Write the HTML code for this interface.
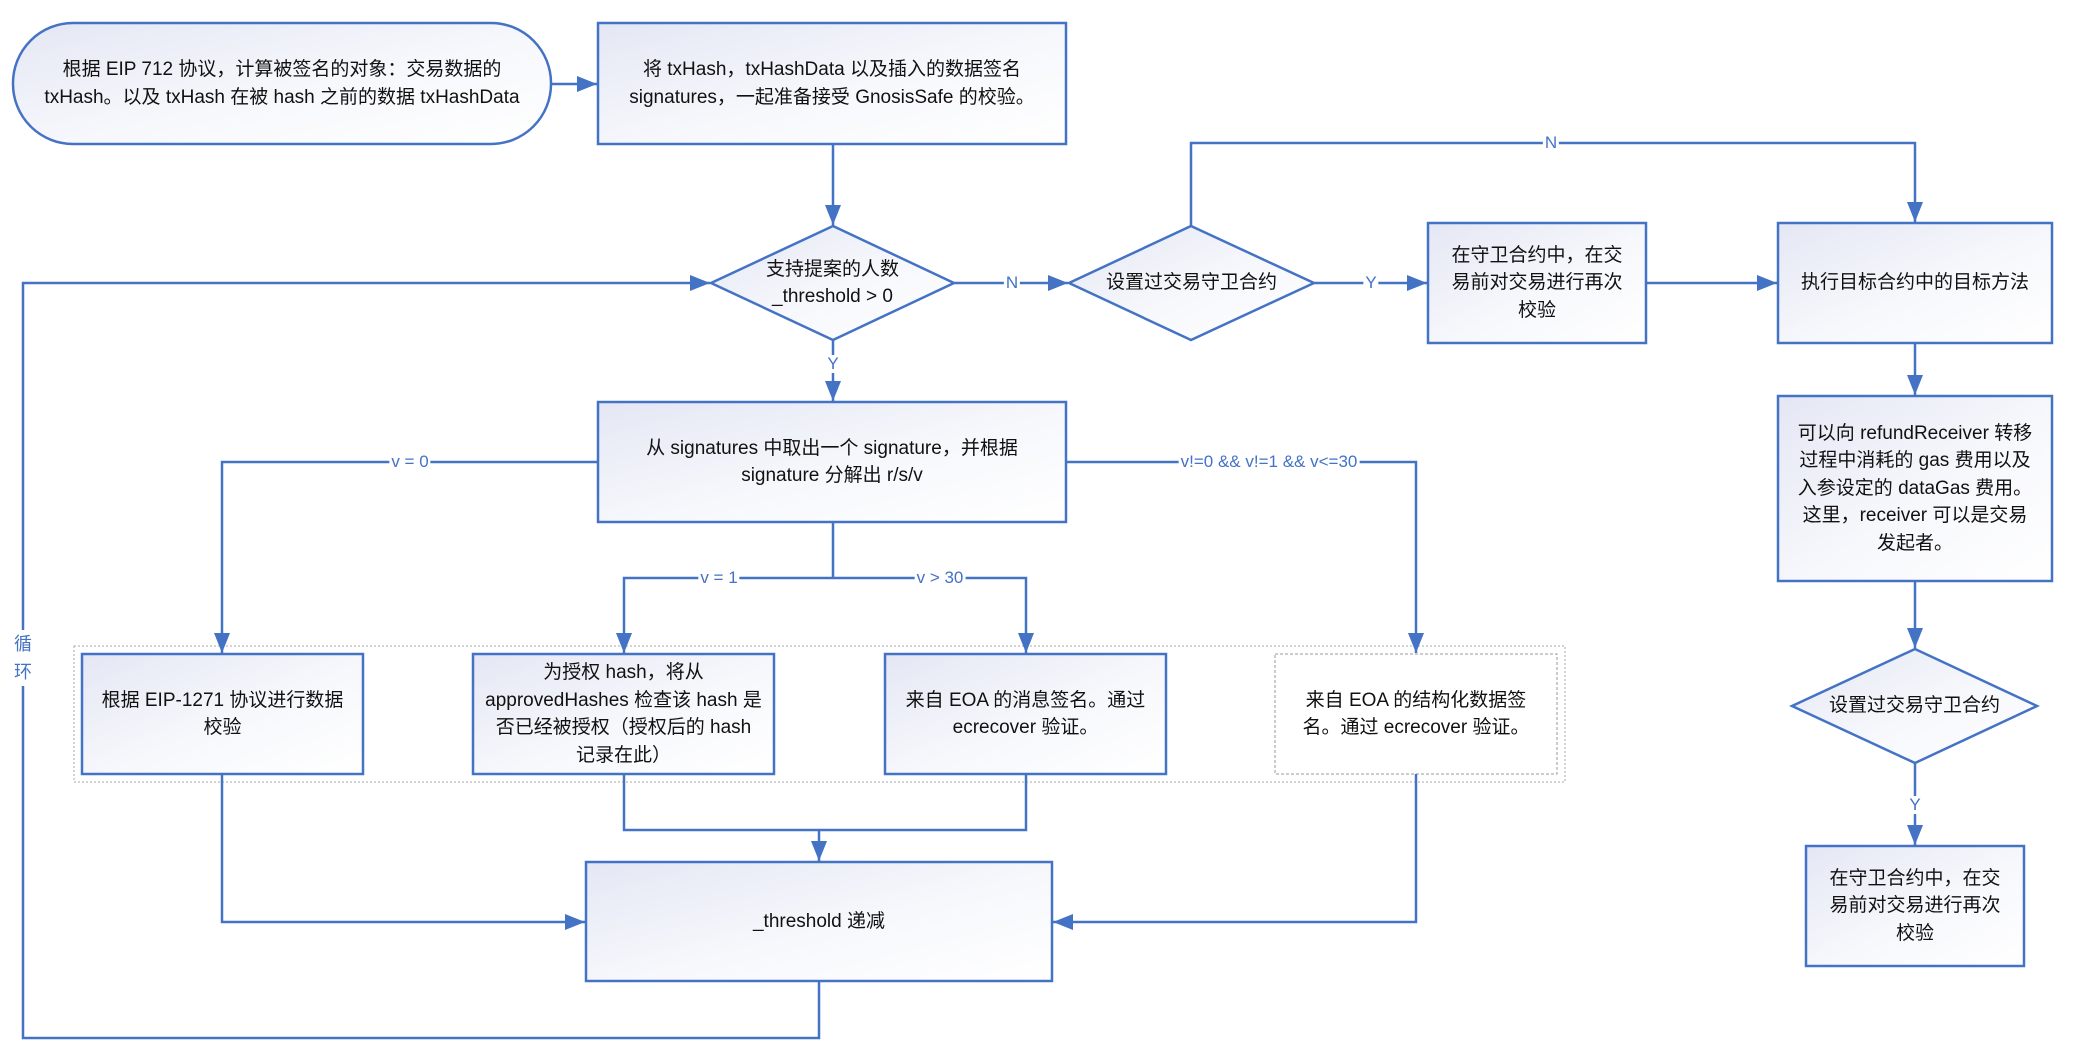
<!DOCTYPE html>
<html><head><meta charset="utf-8"><style>
html,body{margin:0;padding:0;background:#fff;}
body{width:2083px;height:1061px;position:relative;overflow:hidden;font-family:"Liberation Sans","Noto Sans CJK SC",sans-serif;}
.t{position:absolute;display:flex;align-items:center;justify-content:center;text-align:center;font-size:19px;line-height:27.5px;color:#111;}
.l{position:absolute;font-size:17px;color:#4472c4;background:#fff;line-height:18px;padding:0 2px;transform:translate(-50%,-50%);white-space:nowrap;}
</style></head><body>
<svg width="2083" height="1061" style="position:absolute;left:0;top:0">
<defs>
<linearGradient id="g" x1="0" y1="0" x2="1" y2="1"><stop offset="0" stop-color="#e4e7f4"/><stop offset="0.55" stop-color="#f7f8fc"/><stop offset="1" stop-color="#ffffff"/></linearGradient>
<marker id="a" markerWidth="20" markerHeight="16" refX="10" refY="5" orient="auto" markerUnits="userSpaceOnUse" viewBox="0 0 10 10" preserveAspectRatio="none"><path d="M0,0 L10,5 L0,10 z" fill="#4472c4"/></marker>
</defs>
<style>.s{fill:url(#g);stroke:#4472c4;stroke-width:2.5}.c{fill:none;stroke:#4472c4;stroke-width:2.5}</style>
<rect x="74" y="646" width="1491" height="136" fill="none" stroke="#aaa" stroke-width="1" stroke-dasharray="2,2"/>
<rect class="s" x="13" y="23" width="538" height="121" rx="60" ry="60"/>
<rect class="s" x="598" y="23" width="468" height="121"/>
<polygon class="s" points="833,226 954,283 833,340 711,283"/>
<polygon class="s" points="1191,226 1314,283 1191,340 1069,283"/>
<rect class="s" x="1428" y="223" width="218" height="120"/>
<rect class="s" x="1778" y="223" width="274" height="120"/>
<rect class="s" x="1778" y="396" width="274" height="185"/>
<polygon class="s" points="1915,649 2037,706 1915,763 1792,706"/>
<rect class="s" x="1806" y="846" width="218" height="120"/>
<rect class="s" x="598" y="402" width="468" height="120"/>
<rect class="s" x="82" y="654" width="281" height="120"/>
<rect class="s" x="473" y="654" width="301" height="120"/>
<rect class="s" x="885" y="654" width="281" height="120"/>
<rect x="1275" y="654" width="282" height="120" fill="#fff" stroke="#999" stroke-width="1" stroke-dasharray="3,2"/>
<rect class="s" x="586" y="862" width="466" height="119"/>
<path class="c" d="M551,84 H597" marker-end="url(#a)"/>
<path class="c" d="M833,144 V225" marker-end="url(#a)"/>
<path class="c" d="M954,283 H1068" marker-end="url(#a)"/>
<path class="c" d="M1314,283 H1427" marker-end="url(#a)"/>
<path class="c" d="M1646,283 H1777" marker-end="url(#a)"/>
<path class="c" d="M1191,226 V143 H1915 V222" marker-end="url(#a)"/>
<path class="c" d="M1915,343 V395" marker-end="url(#a)"/>
<path class="c" d="M1915,581 V648" marker-end="url(#a)"/>
<path class="c" d="M1915,763 V845" marker-end="url(#a)"/>
<path class="c" d="M833,340 V401" marker-end="url(#a)"/>
<path class="c" d="M598,462 H222 V653" marker-end="url(#a)"/>
<path class="c" d="M1066,462 H1416 V653" marker-end="url(#a)"/>
<path class="c" d="M833,522 V578"/>
<path class="c" d="M833,578 H624 V653" marker-end="url(#a)"/>
<path class="c" d="M833,578 H1026 V653" marker-end="url(#a)"/>
<path class="c" d="M624,774 V830 H1026 V774"/>
<path class="c" d="M819,830 V861" marker-end="url(#a)"/>
<path class="c" d="M222,774 V922 H585" marker-end="url(#a)"/>
<path class="c" d="M1416,774 V922 H1053" marker-end="url(#a)"/>
<path class="c" d="M819,981 V1038 H23 V283 H710" marker-end="url(#a)"/>
</svg>
<div class="t" style="left:13px;top:23px;width:538px;height:121px">根据 EIP 712 协议，计算被签名的对象：交易数据的<br>txHash。以及 txHash 在被 hash 之前的数据 txHashData</div>
<div class="t" style="left:598px;top:23px;width:468px;height:121px">将 txHash，txHashData 以及插入的数据签名<br>signatures，一起准备接受 GnosisSafe 的校验。</div>
<div class="t" style="left:711px;top:226px;width:243px;height:114px">支持提案的人数<br>_threshold &gt; 0</div>
<div class="t" style="left:1069px;top:226px;width:245px;height:114px">设置过交易守卫合约</div>
<div class="t" style="left:1428px;top:223px;width:218px;height:120px">在守卫合约中，在交<br>易前对交易进行再次<br>校验</div>
<div class="t" style="left:1778px;top:223px;width:274px;height:120px">执行目标合约中的目标方法</div>
<div class="t" style="left:1778px;top:396px;width:274px;height:185px">可以向 refundReceiver 转移<br>过程中消耗的 gas 费用以及<br>入参设定的 dataGas 费用。<br>这里，receiver 可以是交易<br>发起者。</div>
<div class="t" style="left:1792px;top:649px;width:245px;height:114px">设置过交易守卫合约</div>
<div class="t" style="left:1806px;top:846px;width:218px;height:120px">在守卫合约中，在交<br>易前对交易进行再次<br>校验</div>
<div class="t" style="left:598px;top:402px;width:468px;height:120px">从 signatures 中取出一个 signature，并根据<br>signature 分解出 r/s/v</div>
<div class="t" style="left:82px;top:654px;width:281px;height:120px">根据 EIP-1271 协议进行数据<br>校验</div>
<div class="t" style="left:473px;top:654px;width:301px;height:120px">为授权 hash，将从<br>approvedHashes 检查该 hash 是<br>否已经被授权（授权后的 hash<br>记录在此）</div>
<div class="t" style="left:885px;top:654px;width:281px;height:120px">来自 EOA 的消息签名。通过<br>ecrecover 验证。</div>
<div class="t" style="left:1275px;top:654px;width:282px;height:120px">来自 EOA 的结构化数据签<br>名。通过 ecrecover 验证。</div>
<div class="t" style="left:586px;top:862px;width:466px;height:119px">_threshold 递减</div>
<div class="l" style="left:1012px;top:283px">N</div>
<div class="l" style="left:1371px;top:283px">Y</div>
<div class="l" style="left:1551px;top:143px">N</div>
<div class="l" style="left:833px;top:364px">Y</div>
<div class="l" style="left:1915px;top:805px">Y</div>
<div class="l" style="left:410px;top:462px">v = 0</div>
<div class="l" style="left:1269px;top:462px">v!=0 &amp;&amp; v!=1 &amp;&amp; v&lt;=30</div>
<div class="l" style="left:719px;top:578px">v = 1</div>
<div class="l" style="left:940px;top:578px">v &gt; 30</div>
<div class="l" style="left:23px;top:658px;line-height:28px;font-size:18px">循<br>环</div>
</body></html>
